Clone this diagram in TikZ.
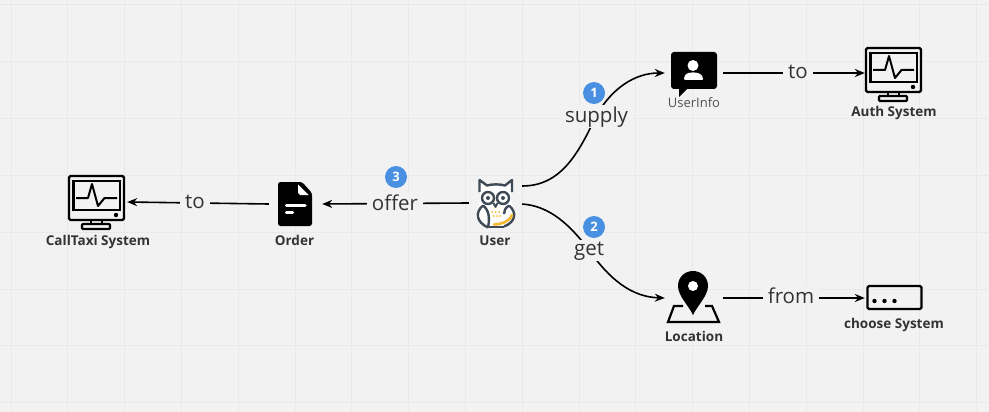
\documentclass[tikz,border=0pt]{standalone}
\usepackage{fontspec}
\setmainfont{Open Sans}
\usetikzlibrary{arrows.meta}
\definecolor{bg}{HTML}{F2F2F2}
\definecolor{gridc}{HTML}{E9E9E9}
\definecolor{ink}{HTML}{333333}
\definecolor{badge}{HTML}{4A90E2}
\definecolor{owlc}{HTML}{3F4A57}
\definecolor{owly}{HTML}{F5B72E}
\tikzset{
  x=1pt,y=-1pt,
  iconbox/.style={inner sep=0pt,minimum height=40pt},
  caption/.style={font=\fontsize{13.5}{15}\selectfont\bfseries,text=ink,inner sep=0pt,anchor=base},
  plaincap/.style={font=\fontsize{13}{15}\selectfont,text=ink!85,inner sep=0pt,anchor=base},
  edgelabel/.style={font=\fontsize{20.5}{24}\selectfont,text=ink,fill=bg,inner xsep=5pt,inner ysep=1pt,anchor=base},
  link/.style={line width=1.6pt,black},
  arrowlink/.style={link,-{Stealth[length=10pt,width=8pt]}},
  numbadge/.style={circle,fill=badge,minimum size=22pt,inner sep=0pt,text=white,font=\fontsize{13}{14}\selectfont\bfseries},
  monitor/.pic={
    \draw[line width=2.3pt,rounded corners=1.5pt] (0,0) rectangle (55,44);
    \draw[line width=2.3pt] (4.5,5) rectangle (51,34);
    \draw[line width=2pt,line join=round] (7,22) -- (19,22) -- (23,8) -- (29,30) -- (35.5,22) -- (48,22);
    \fill (47,39) circle (2.2pt);
    \draw[line width=2.3pt] (22,44) -- (22,48) (33,44) -- (33,48);
    \draw[line width=2.3pt,rounded corners=1pt] (13,48) rectangle (41,53);
  }
}
\begin{document}
\begin{tikzpicture}
\useasboundingbox (0,0) rectangle (989,412);
\fill[bg] (0,0) rectangle (989,412);
\foreach \k in {0,...,17} \draw[gridc,line width=1pt] (11+56.8*\k,0) -- (11+56.8*\k,412);
\foreach \k in {0,...,7} \draw[gridc,line width=1pt] (0,5+56.8*\k) -- (989,5+56.8*\k);

% anchors of the icons
\node[iconbox,minimum width=58pt] (call) at (98,202) {};
\node[iconbox,minimum width=53pt] (order) at (295.5,204) {};
\node[iconbox,minimum width=53pt] (user) at (495.5,203) {};
\node[iconbox,minimum width=58pt] (info) at (694,73) {};
\node[iconbox,minimum width=56pt] (auth) at (893,73) {};
\node[iconbox,minimum width=58pt] (loc) at (694,298) {};
\node[iconbox,minimum width=56pt] (choose) at (893,298) {};

% connectors
\draw[arrowlink] (order.west) -- (call.east);
\draw[arrowlink] (user.west) -- (order.east);
\draw[arrowlink] (info.east) -- (auth.west);
\draw[arrowlink] (loc.east) -- (choose.west);
\draw[arrowlink] ([yshift=17pt]user.east) .. controls (560,186) and (578,155) .. (596,116) .. controls (612,88) and (635,73) .. (info.west);
\draw[arrowlink] ([yshift=-1pt]user.east) .. controls (550,206) and (570,225) .. (589,250) .. controls (610,280) and (632,297) .. (loc.west);

% connector labels
\node[edgelabel] (lto1) at (195,208) {to};
\node[edgelabel] (loffer) at (395,210) {offer};
\node[edgelabel] (lsupply) at (596.5,122) {supply};
\node[edgelabel] (lget) at (589,255) {get};
\node[edgelabel] (lto2) at (798,79) {to};
\node[edgelabel] (lfrom) at (791,303) {from};

% badges
\node[numbadge] (b1) at (594,93) {1};
\node[numbadge] (b2) at (594,227) {2};
\node[numbadge] (b3) at (396,177) {3};

% monitors
\pic at (866,48) {monitor};
\pic at (69,176) {monitor};

% user info bubble
\fill[rounded corners=3pt] (671,52) rectangle (717,89);
\fill (679,86) -- (679,97) -- (689,87) -- cycle;
\fill[white] (693,65.5) circle (5.5pt);
\fill[white,rounded corners=1pt] (684,80) .. controls (684,74) and (688,72.5) .. (693,72.5) .. controls (698,72.5) and (703,74) .. (703,80) -- cycle;

% order document
\fill[rounded corners=2.5pt] (278,182) -- (302,182) -- (312,193) -- (312,226) -- (278,226) -- cycle;
\fill[white] (298,184.5) -- (308.5,195) -- (300,195) -- (298,193) -- cycle;
\draw[white,line width=3.5pt,line cap=round] (286.5,205.5) -- (305,205.5) (286.5,212.5) -- (292.5,212.5);

% location
\draw[line width=2.2pt,line join=miter] (683,306) -- (674,306) -- (668,322) -- (719,322) -- (712,306) -- (705,306);
\fill (693,315) .. controls (689,306) and (678,296) .. (678,286) .. controls (678,277) and (685,271) .. (693,271) .. controls (701,271) and (708,277) .. (708,286) .. controls (708,296) and (697,306) .. (693,315) -- cycle;
\fill[white] (693,286) circle (5pt);

% choose system
\draw[line width=2.2pt,rounded corners=1.5pt] (867.5,286) rectangle (921.5,309);
\fill (874.5,301) circle (2.2pt) (884.5,301) circle (2.2pt) (894.5,301) circle (2.2pt);

% owl
\begin{scope}[owlc,line width=2.4pt,line join=round]
\fill[white] (480,181) -- (487,186) -- (505,186) -- (511,181) -- (511,200) -- (515,212) .. controls (514,222) and (505,227) .. (496,227) .. controls (487,227) and (478,222) .. (477,212) -- (480,200) -- cycle;
\draw (479.5,192) -- (479.5,180) -- (487,185.5) .. controls (492,184) and (500,184) .. (505,185.5) -- (512,180) -- (512,192);
\draw[fill=white] (488,198) circle (6pt) (503,198) circle (6pt);
\fill (488,198) circle (2pt) (503,198) circle (2pt);
\draw[line width=1.8pt] (493.5,203) -- (495.5,207) -- (497.5,203);
\draw (483,205.5) .. controls (475,212) and (476,222) .. (488,227.5);
\draw (483,205.5) .. controls (489,210) and (490,218) .. (488,227.5);
\draw (509,205.5) .. controls (517,212) and (516,222) .. (504,226.5);
\draw (509,205.5) .. controls (505,208) and (504,211) .. (504,214);
\draw (488,227) -- (504,227);
\draw[owly,line width=2.6pt,line cap=round] (512,215) .. controls (509,222) and (502,224) .. (494,224.5);
\fill[owly] (492,212) circle (1pt) (495.5,212) circle (1pt) (499,212) circle (1pt)
            (493.5,216) circle (1pt) (497,216) circle (1pt) (500,216) circle (1pt);
\end{scope}

% captions
\node[caption] (ccall) at (98,245) {CallTaxi System};
\node[caption] (corder) at (294.5,245) {Order};
\node[caption] (cuser) at (495,245) {User};
\node[plaincap] (cinfo) at (694,107) {UserInfo};
\node[caption] (cauth) at (894,117) {Auth System};
\node[caption] (cloc) at (694,341) {Location};
\node[caption] (cchoose) at (894,328) {choose System};
\end{tikzpicture}
\end{document}
